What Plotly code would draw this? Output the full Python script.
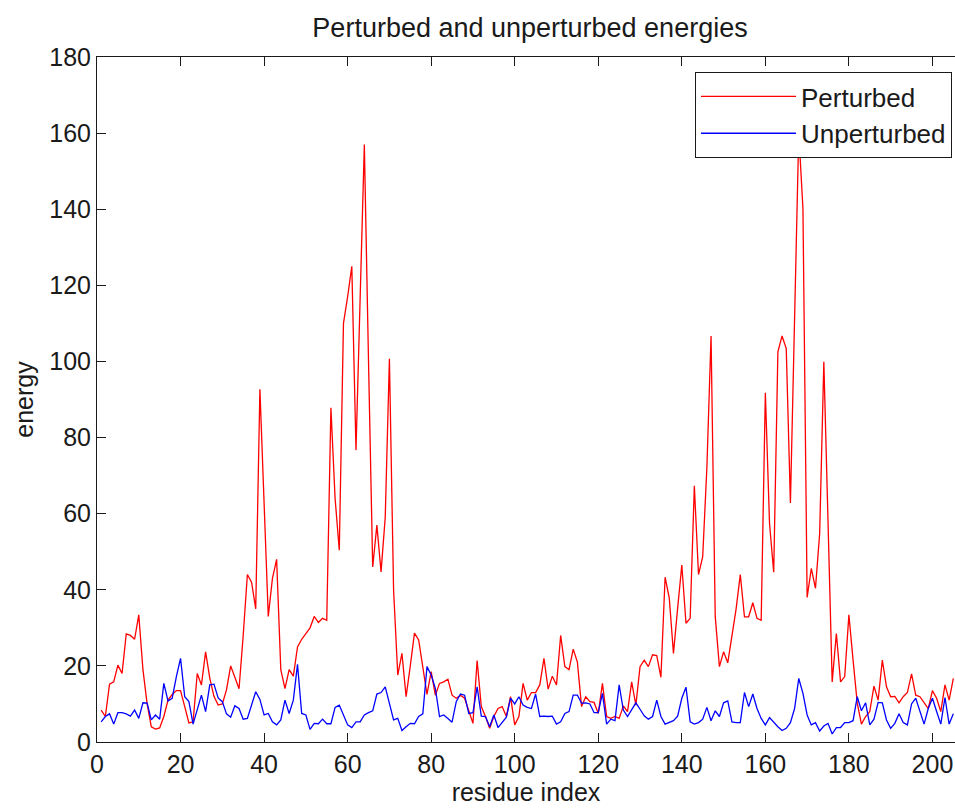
import plotly.graph_objects as go

residue_index = list(range(1, 206))

perturbed = [
    8.4, 6.7, 15.2, 15.8, 20.2, 18, 28.4, 28, 27, 33.4,
    19, 10, 4, 3.4, 3.7, 6.7, 11, 12.5, 13.5, 13.5,
    9.3, 5, 5.3, 18, 15, 23.7, 16.8, 12, 9.7, 10,
    13.7, 20, 17, 14, 28, 44, 42, 35, 92.7, 63,
    33, 43, 48, 19, 14, 19, 17.3, 25, 27, 28.5,
    30, 33, 31.4, 32.5, 32, 87.8, 64, 50.4, 110, 117,
    125, 76.7, 117, 157, 100, 46, 57, 44.7, 59, 100.7,
    40, 17.6, 23.3, 11.9, 20, 28.6, 26.8, 20, 12.5, 18.5,
    12.3, 15.4, 15.8, 16.5, 12.3, 11.5, 12.3, 11.5, 8.4, 4.9,
    21.4, 9.3, 6.7, 3.6, 6.7, 8.8, 9.3, 6.7, 11.9, 4.5,
    6.7, 15.4, 11, 13, 13, 15, 22, 13.9, 17.3, 15,
    28, 19.8, 19, 24.4, 21, 9.3, 11.9, 10.6, 10.4, 7.5,
    15.4, 6.7, 6.2, 6.7, 6.2, 9.5, 8, 15.8, 9.7, 19.8,
    21.5, 19.8, 22.9, 22.7, 17, 43.3, 37.8, 23.3, 35.1, 46.5,
    31.2, 32.5, 67.3, 44, 48.7, 72, 106.7, 33, 19.8, 23.7,
    20.8, 27.7, 35, 44, 32.9, 32.9, 36.6, 32.5, 32, 91.8,
    57.4, 44.6, 102.5, 106.7, 103.4, 62.8, 111, 160, 140.2, 38,
    45.6, 40.4, 54.8, 99.9, 58, 15.8, 28.5, 15.8, 17.2, 33.4,
    21.5, 10.2, 4.7, 6.7, 8, 14.7, 11, 21.5, 14.5, 11.9,
    12, 10.3, 11.9, 13, 17.9, 12.3, 11.9, 10.2, 8.8, 13.5,
    11.5, 8, 15, 11, 16.7,
]

unperturbed = [
    5.3, 6.7, 7.4, 4.7, 7.7, 7.7, 7.4, 6.8, 8.4, 6.2,
    10.3, 10.2, 5.8, 7.1, 6, 15.4, 10.8, 11.5, 17.2, 22,
    11.9, 10.6, 4.7, 8.4, 12.3, 8, 15, 15.2, 11.6, 10.6,
    7.4, 6.5, 9.5, 8.8, 6, 6.2, 9.7, 13.2, 11.2, 7.1,
    7.5, 5.3, 4.5, 5.8, 11, 7.5, 11, 20.4, 7.5, 7.1,
    3.3, 4.9, 4.8, 6, 4.8, 4.8, 9.1, 9.7, 7.1, 4.5,
    3.8, 5.3, 5.3, 7.1, 7.7, 8.2, 12.6, 13, 14.5, 10.3,
    5.8, 6.2, 3, 4, 4.9, 4.8, 6.7, 7.4, 19.8, 17.6,
    14.1, 6.7, 7.1, 6.2, 5.2, 10.6, 12.6, 12.3, 7.5, 7.7,
    14.5, 6.8, 6.7, 4, 7.1, 3.8, 5.1, 6.5, 11.5, 10,
    11.9, 9.7, 9.1, 8.8, 12.6, 6.7, 6.8, 6.7, 6.8, 4.7,
    5.3, 7.5, 8, 12.3, 12.3, 10.2, 10.3, 10, 7.7, 7.7,
    12.8, 4.7, 6, 5.6, 15, 8.4, 6.7, 8.4, 10.3, 8.6,
    6.9, 6, 6.7, 11, 6.7, 4.7, 5.1, 5.6, 6.8, 11.5,
    14.4, 5.3, 4.7, 5.1, 6, 9.1, 5.6, 8.2, 6.7, 10.3,
    10.8, 5.3, 5.1, 5.1, 13, 9.3, 12.6, 8.8, 6.2, 4.5,
    6.4, 5.1, 4, 3, 3.6, 5.1, 8.8, 16.7, 12.8, 7.1,
    4.5, 5.1, 2.9, 4.2, 4.9, 2.1, 3.8, 3.8, 5.1, 5.1,
    5.6, 11.9, 8.2, 10.3, 4.5, 6, 10.4, 10.3, 5.8, 3.6,
    4.9, 7.4, 5.1, 4.5, 10, 11.5, 8, 4.7, 8.8, 11.5,
    8, 4.7, 11.7, 4.7, 7.4,
]

x_ticks = [0, 20, 40, 60, 80, 100, 120, 140, 160, 180, 200]
y_ticks = [0, 20, 40, 60, 80, 100, 120, 140, 160, 180]

FONT = "Liberation Sans, Arial, sans-serif"
INK = "#1a1a1a"

fig = go.Figure()
fig.add_trace(go.Scatter(x=residue_index, y=perturbed, mode="lines", name="Perturbed",
                         line=dict(color="#ff0000", width=1.3)))
fig.add_trace(go.Scatter(x=residue_index, y=unperturbed, mode="lines", name="Unperturbed",
                         line=dict(color="#0000ff", width=1.3)))

axis_common = dict(
    showline=True, linecolor=INK, linewidth=1,
    ticks="inside", ticklen=9, tickcolor=INK, tickwidth=1,
    showgrid=False, zeroline=False,
    tickfont=dict(family=FONT, size=25, color=INK),
)

fig.update_layout(
    width=955, height=810,
    margin=dict(l=97, r=0, t=57, b=68),
    paper_bgcolor="white", plot_bgcolor="white",
    font=dict(family=FONT, size=25, color=INK),
    title=dict(text="Perturbed and unperturbed energies", x=0.555, xanchor="center",
               y=0.966, yanchor="middle", font=dict(family=FONT, size=27, color=INK)),
    xaxis=dict(range=[0, 205.4], tickvals=x_ticks, mirror="ticks",
               title=dict(text="residue index", standoff=6,
                          font=dict(family=FONT, size=25, color=INK)),
               **axis_common),
    yaxis=dict(range=[0, 180], tickvals=y_ticks, mirror=False,
               title=dict(text="energy", standoff=8,
                          font=dict(family=FONT, size=25, color=INK)),
               **axis_common),
    legend=dict(x=0.9965, xanchor="right", y=0.978, yanchor="top",
                bgcolor="white", bordercolor=INK, borderwidth=1,
                font=dict(family=FONT, size=26, color=INK),
                tracegroupgap=0, itemwidth=95),
    showlegend=True,
)

fig.write_html("out.html")
